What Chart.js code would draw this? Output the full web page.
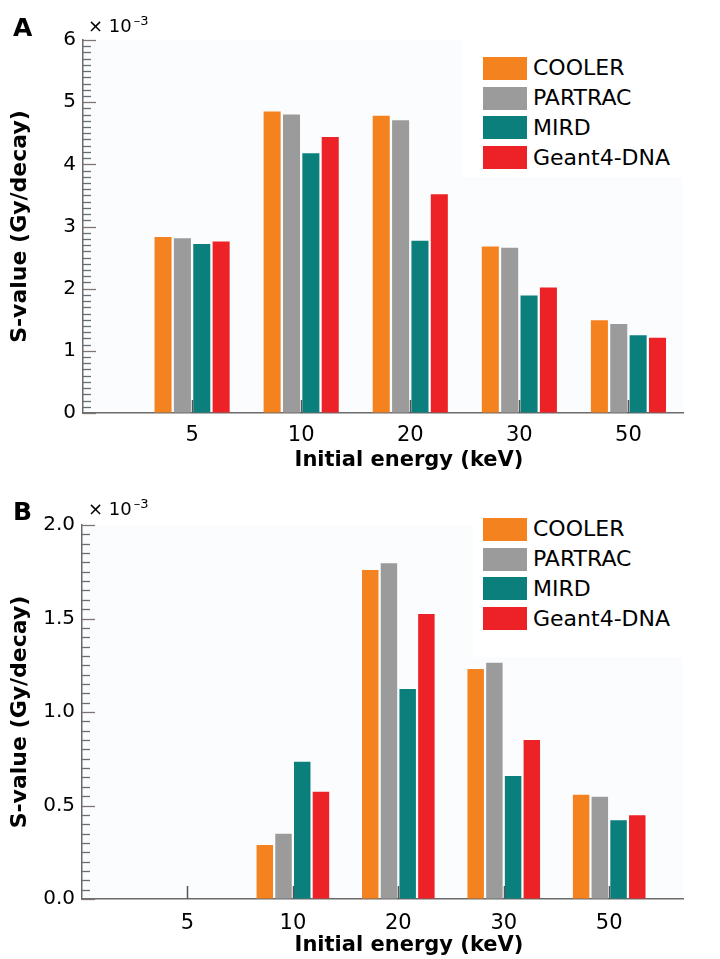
<!DOCTYPE html>
<html>
<head>
<meta charset="utf-8">
<script src="https://cdn.jsdelivr.net/npm/chart.js@4/dist/chart.umd.min.js"></script>
<style>
html,body{margin:0;padding:0;background:#fff;}
#wrap{position:relative;width:720px;height:959px;overflow:hidden;font-family:'DejaVu Sans',sans-serif;color:#000;}
canvas{position:absolute;left:0;}
.abs{position:absolute;line-height:1;white-space:nowrap;}
.panel{font-weight:bold;font-size:25px;}
.mult{font-size:18px;}
.mult .sup{font-size:13px;position:relative;top:-7px;margin-left:2px;}
.xt{font-weight:bold;font-size:21px;transform:translateX(-50%);}
.legend{position:absolute;background:#fff;box-sizing:border-box;}
.row{display:flex;align-items:center;height:29.7px;}
.box{width:44px;height:23px;margin-right:6px;}
.lbl{font-size:22px;line-height:1;}
</style>
</head>
<body>
<div id="wrap">
  <canvas id="cA" width="720" height="480" style="top:0"></canvas>
  <canvas id="cB" width="720" height="479" style="top:480px"></canvas>
  <div class="abs panel" style="left:13px;top:15px">A</div>
  <div class="abs mult" style="left:88px;top:17px">× 10<span class="sup">–3</span></div>
  <div class="abs xt" style="left:409px;top:449px">Initial energy (keV)</div>
  <div class="abs panel" style="left:13px;top:499px">B</div>
  <div class="abs mult" style="left:88px;top:500px">× 10<span class="sup">–3</span></div>
  <div class="abs xt" style="left:409px;top:934px">Initial energy (keV)</div>
  <div id="legA" class="legend" style="left:462px;top:35px;width:221px;height:142px;padding:18.6px 0 0 21px"></div>
  <div id="legB" class="legend" style="left:473px;top:510px;width:210px;height:147px;padding:4.6px 0 0 10px"></div>
</div>
<script>
// ---- data (values in units of 10^-3 Gy/decay) ----
const ENERGY_LABELS = ['5', '10', '20', '30', '50'];
const SERIES = ['COOLER', 'PARTRAC', 'MIRD', 'Geant4-DNA'];
const COLORS = ['#f4821f', '#9b9b9b', '#0b7f7b', '#ec2227'];

// Panel A
const A_COOLER  = [2.83, 4.85, 4.78, 2.68, 1.49];
const A_PARTRAC = [2.81, 4.80, 4.71, 2.66, 1.43];
const A_MIRD    = [2.72, 4.18, 2.77, 1.89, 1.25];
const A_G4DNA   = [2.76, 4.44, 3.52, 2.02, 1.21];

// Panel B
const B_COOLER  = [0, 0.289, 1.760, 1.230, 0.558];
const B_PARTRAC = [0, 0.349, 1.795, 1.264, 0.547];
const B_MIRD    = [0, 0.734, 1.123, 0.658, 0.421];
const B_G4DNA   = [0, 0.574, 1.524, 0.850, 0.448];

Chart.defaults.font.family = "'DejaVu Sans', sans-serif";
Chart.defaults.color = '#000';

function pts(vals) { return vals.map((v, i) => ({ x: i + 1, y: v })); }

const innerTicks = {
  id: 'innerTicks',
  beforeDraw(chart) {
    const { ctx, chartArea: a } = chart;
    ctx.save();
    ctx.fillStyle = '#fbfcfe';
    ctx.fillRect(a.left, a.top, a.right - a.left, a.bottom - a.top);
    ctx.restore();
  },
  afterDatasetsDraw(chart, args, o) {
    const ctx = chart.ctx, a = chart.chartArea, ys = chart.scales.y, xs = chart.scales.x;
    ctx.save();
    ys.ticks.forEach(t => {
      const p = Math.round(ys.getPixelForValue(t.value)) + 0.5;
      const r = t.value / o.major;
      const major = Math.abs(r - Math.round(r)) < 1e-6;
      ctx.strokeStyle = major ? '#7d7474' : '#667070';
      ctx.lineWidth = 1.3;
      ctx.beginPath();
      ctx.moveTo(a.left, p);
      ctx.lineTo(a.left + (major ? 13 : 8), p);
      ctx.stroke();
    });
    xs.ticks.forEach(t => {
      const p = Math.round(xs.getPixelForValue(t.value)) + 0.5;
      ctx.strokeStyle = '#555';
      ctx.lineWidth = 1.5;
      ctx.beginPath();
      ctx.moveTo(p, a.bottom);
      ctx.lineTo(p, a.bottom - 13);
      ctx.stroke();
    });
    ctx.restore();
  }
};

function makeChart(id, series, cfg) {
  return new Chart(document.getElementById(id), {
    type: 'bar',
    data: {
      datasets: SERIES.map((name, k) => ({
        label: name,
        data: pts(series[k]),
        backgroundColor: COLORS[k],
        borderWidth: 0,
        categoryPercentage: 0.71,
        barPercentage: 0.88
      }))
    },
    options: {
      responsive: false,
      animation: false,
      layout: { padding: { top: cfg.top, right: 37, left: 0, bottom: 0 } },
      plugins: {
        legend: { display: false },
        tooltip: { enabled: false },
        innerTicks: { major: cfg.major }
      },
      scales: {
        x: {
          type: 'linear',
          min: 0,
          max: cfg.xMax,
          offset: false,
          afterBuildTicks: s => { s.ticks = ENERGY_LABELS.map((_, i) => ({ value: i + 1 })); },
          ticks: {
            autoSkip: false,
            maxRotation: 0,
            padding: cfg.xPad,
            font: { size: 21 },
            color: '#000',
            callback: (v, i) => ENERGY_LABELS[i]
          },
          grid: { display: true, drawOnChartArea: false, drawTicks: false },
          border: { display: true, color: '#6b6b6b', width: 1.5 },
          afterFit: s => { s.height = cfg.xH; }
        },
        y: {
          min: 0,
          max: cfg.yMax,
          ticks: {
            stepSize: cfg.step,
            autoSkip: false,
            maxTicksLimit: 1000,
            padding: 7,
            font: { size: 20 },
            color: '#000',
            callback: v => {
              const r = v / cfg.major;
              return Math.abs(r - Math.round(r)) < 1e-6 ? cfg.fmt(v) : '';
            }
          },
          grid: { display: true, drawOnChartArea: false, drawTicks: false },
          border: { display: true, color: '#6b6b6b', width: 1.5 },
          title: {
            display: true,
            text: 'S-value (Gy/decay)',
            font: { size: 22, weight: 'bold' },
            color: '#000',
            padding: { top: 7, bottom: 0 }
          },
          afterFit: s => { s.width = cfg.yW; }
        }
      }
    },
    plugins: [innerTicks]
  });
}

makeChart('cA', [A_COOLER, A_PARTRAC, A_MIRD, A_G4DNA], {
  top: 40, xMax: 5.5, yMax: 6, step: 0.1, major: 1, fmt: v => String(Math.round(v)),
  xPad: 10, xH: 67, yW: 83
});
makeChart('cB', [B_COOLER, B_PARTRAC, B_MIRD, B_G4DNA], {
  top: 45, xMax: 5.7, yMax: 2, step: 0.05, major: 0.5, fmt: v => v.toFixed(1),
  xPad: 12, xH: 60, yW: 82
});

function buildLegend(id) {
  const el = document.getElementById(id);
  SERIES.forEach((name, k) => {
    const row = document.createElement('div');
    row.className = 'row';
    const box = document.createElement('div');
    box.className = 'box';
    box.style.background = COLORS[k];
    const lbl = document.createElement('span');
    lbl.className = 'lbl';
    lbl.textContent = name;
    row.appendChild(box);
    row.appendChild(lbl);
    el.appendChild(row);
  });
}
buildLegend('legA');
buildLegend('legB');
</script>
</body>
</html>
